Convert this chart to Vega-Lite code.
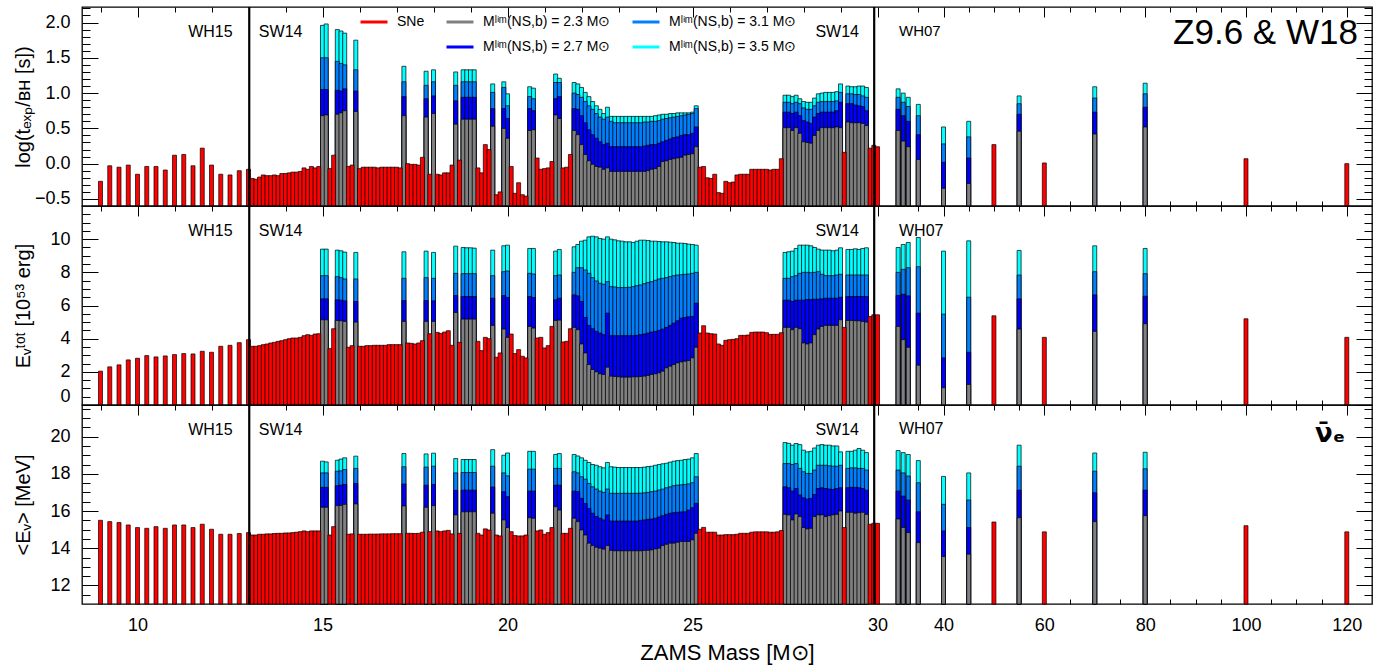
{
"$schema":"https://vega.github.io/schema/vega-lite/v6.json",
"padding":{"left":12,"top":5,"right":18,"bottom":5},
"spacing":0,
"bounds":"flush",
"config":{"view":{"stroke":"black","strokeWidth":1.3},"font":"Liberation Sans",
"axis":{"domain":false,"grid":false,"tickColor":"black","tickWidth":1,"labelColor":"black","labelFont":"Liberation Sans","labelFontSize":18,"titleColor":"black","titleFont":"Liberation Sans","titleFontWeight":"normal","titleFontSize":20}},
"datasets":{"d":[
{"m":9,"f":"S","t1":-0.25,"E1":2.04,"e1":15.5},
{"m":9.25,"f":"S","t1":-0.03,"E1":2.3,"e1":15.43},
{"m":9.5,"f":"S","t1":-0.05,"E1":2.42,"e1":15.38},
{"m":9.75,"f":"S","t1":-0.02,"E1":2.72,"e1":15.25},
{"m":10,"f":"S","t1":-0.15,"E1":2.82,"e1":15.11},
{"m":10.25,"f":"S","t1":-0.04,"E1":2.98,"e1":15.07},
{"m":10.5,"f":"S","t1":-0.04,"E1":2.9,"e1":15.16},
{"m":10.75,"f":"S","t1":-0.09,"E1":2.96,"e1":15.07},
{"m":11,"f":"S","t1":0.12,"E1":3.04,"e1":15.25},
{"m":11.25,"f":"S","t1":0.13,"E1":3.1,"e1":15.25},
{"m":11.5,"f":"S","t1":-0.03,"E1":3.08,"e1":15.11},
{"m":11.75,"f":"S","t1":0.22,"E1":3.24,"e1":15.29},
{"m":12,"f":"S","t1":-0.02,"E1":3.18,"e1":15.02},
{"m":12.25,"f":"S","t1":-0.15,"E1":3.54,"e1":14.75},
{"m":12.5,"f":"S","t1":-0.16,"E1":3.6,"e1":14.75},
{"m":12.75,"f":"S","t1":-0.1,"E1":3.76,"e1":14.79},
{"m":13,"f":"S","t1":-0.08,"E1":3.94,"e1":14.84},
{"m":13.1,"f":"S","t1":-0.21,"E1":3.54,"e1":14.71},
{"m":13.2,"f":"S","t1":-0.22,"E1":3.54,"e1":14.71},
{"m":13.3,"f":"S","t1":-0.19,"E1":3.58,"e1":14.75},
{"m":13.4,"f":"S","t1":-0.16,"E1":3.64,"e1":14.75},
{"m":13.5,"f":"S","t1":-0.17,"E1":3.68,"e1":14.77},
{"m":13.6,"f":"S","t1":-0.17,"E1":3.74,"e1":14.77},
{"m":13.7,"f":"S","t1":-0.16,"E1":3.78,"e1":14.79},
{"m":13.8,"f":"S","t1":-0.17,"E1":3.84,"e1":14.8},
{"m":13.9,"f":"S","t1":-0.14,"E1":3.88,"e1":14.8},
{"m":14,"f":"S","t1":-0.14,"E1":3.94,"e1":14.82},
{"m":14.1,"f":"S","t1":-0.13,"E1":4.0,"e1":14.82},
{"m":14.2,"f":"S","t1":-0.12,"E1":4.04,"e1":14.84},
{"m":14.3,"f":"S","t1":-0.12,"E1":4.04,"e1":14.86},
{"m":14.4,"f":"S","t1":-0.11,"E1":4.08,"e1":14.89},
{"m":14.5,"f":"S","t1":-0.06,"E1":4.18,"e1":14.93},
{"m":14.6,"f":"S","t1":-0.08,"E1":4.24,"e1":14.89},
{"m":14.7,"f":"S","t1":-0.04,"E1":4.2,"e1":14.93},
{"m":14.8,"f":"S","t1":-0.06,"E1":4.28,"e1":14.93},
{"m":14.9,"f":"S","t1":-0.04,"E1":4.3,"e1":14.93},
{"m":15,"f":"B","t1":0.68,"t2":1.05,"t3":1.5,"t4":1.96,"E1":5.14,"E2":6.4,"E3":7.8,"E4":9.4,"e1":16.2,"e2":17.27,"e3":18.05,"e4":18.68},
{"m":15.1,"f":"B","t1":0.69,"t2":1.05,"t3":1.5,"t4":1.98,"E1":5.14,"E2":6.4,"E3":7.8,"E4":9.4,"e1":16.2,"e2":17.27,"e3":18.05,"e4":18.64},
{"m":15.2,"f":"S","t1":-0.07,"E1":3.4,"e1":14.71},
{"m":15.3,"f":"S","t1":0.12,"E1":4.6,"e1":15.16},
{"m":15.4,"f":"B","t1":0.7,"t2":1.04,"t3":1.45,"t4":1.9,"E1":5.1,"E2":6.34,"E3":7.74,"E4":9.34,"e1":16.29,"e2":17.36,"e3":18.14,"e4":18.73},
{"m":15.5,"f":"B","t1":0.72,"t2":1.03,"t3":1.42,"t4":1.88,"E1":5.08,"E2":6.32,"E3":7.68,"E4":9.3,"e1":16.3,"e2":17.39,"e3":18.16,"e4":18.79},
{"m":15.6,"f":"B","t1":0.75,"t2":1.06,"t3":1.4,"t4":1.85,"E1":5.04,"E2":6.28,"E3":7.6,"E4":9.22,"e1":16.36,"e2":17.43,"e3":18.23,"e4":18.86},
{"m":15.7,"f":"S","t1":-0.04,"E1":3.48,"e1":14.75},
{"m":15.8,"f":"S","t1":-0.02,"E1":3.58,"e1":14.77},
{"m":15.9,"f":"B","t1":0.74,"t2":1.03,"t3":1.33,"t4":1.75,"E1":5.0,"E2":6.24,"E3":7.6,"E4":9.2,"e1":16.38,"e2":17.48,"e3":18.29,"e4":18.95},
{"m":16,"f":"S","t1":-0.07,"E1":3.54,"e1":14.75},
{"m":16.1,"f":"S","t1":-0.05,"E1":3.54,"e1":14.75},
{"m":16.2,"f":"S","t1":-0.05,"E1":3.58,"e1":14.75},
{"m":16.3,"f":"S","t1":-0.05,"E1":3.58,"e1":14.76},
{"m":16.4,"f":"S","t1":-0.05,"E1":3.6,"e1":14.76},
{"m":16.5,"f":"S","t1":-0.06,"E1":3.6,"e1":14.76},
{"m":16.6,"f":"S","t1":-0.05,"E1":3.6,"e1":14.77},
{"m":16.7,"f":"S","t1":-0.05,"E1":3.6,"e1":14.77},
{"m":16.8,"f":"S","t1":-0.05,"E1":3.64,"e1":14.77},
{"m":16.9,"f":"S","t1":-0.05,"E1":3.64,"e1":14.78},
{"m":17,"f":"S","t1":-0.05,"E1":3.64,"e1":14.78},
{"m":17.1,"f":"S","t1":-0.06,"E1":3.64,"e1":14.78},
{"m":17.2,"f":"B","t1":0.68,"t2":0.95,"t3":1.16,"t4":1.38,"E1":5.04,"E2":6.3,"E3":7.64,"E4":9.24,"e1":16.27,"e2":17.45,"e3":18.38,"e4":19.09},
{"m":17.3,"f":"S","t1":0.0,"E1":3.74,"e1":14.8},
{"m":17.4,"f":"S","t1":-0.01,"E1":3.72,"e1":14.8},
{"m":17.5,"f":"S","t1":-0.01,"E1":3.68,"e1":14.79},
{"m":17.6,"f":"S","t1":-0.02,"E1":3.74,"e1":14.8},
{"m":17.7,"f":"S","t1":0.09,"E1":3.88,"e1":14.86},
{"m":17.8,"f":"B","t1":0.66,"t2":0.92,"t3":1.11,"t4":1.31,"E1":5.04,"E2":6.3,"E3":7.68,"E4":9.28,"e1":16.2,"e2":17.39,"e3":18.36,"e4":19.07},
{"m":17.9,"f":"S","t1":-0.15,"E1":4.3,"e1":14.89},
{"m":18,"f":"B","t1":0.71,"t2":0.96,"t3":1.16,"t4":1.33,"E1":5.04,"E2":6.28,"E3":7.64,"E4":9.2,"e1":16.29,"e2":17.43,"e3":18.41,"e4":19.11},
{"m":18.1,"f":"S","t1":-0.15,"E1":4.38,"e1":14.93},
{"m":18.2,"f":"S","t1":-0.16,"E1":4.32,"e1":14.89},
{"m":18.3,"f":"S","t1":-0.13,"E1":4.4,"e1":14.93},
{"m":18.4,"f":"S","t1":-0.13,"E1":4.48,"e1":14.96},
{"m":18.5,"f":"S","t1":-0.02,"E1":3.6,"e1":14.77},
{"m":18.6,"f":"B","t1":0.56,"t2":0.89,"t3":1.11,"t4":1.3,"E1":5.58,"E2":6.6,"E3":7.94,"E4":9.58,"e1":15.79,"e2":17.11,"e3":18.05,"e4":18.82},
{"m":18.7,"f":"S","t1":0.05,"E1":3.78,"e1":14.8},
{"m":18.8,"f":"B","t1":0.63,"t2":0.94,"t3":1.16,"t4":1.33,"E1":5.18,"E2":6.54,"E3":7.92,"E4":9.5,"e1":15.96,"e2":17.12,"e3":18.07,"e4":18.77},
{"m":18.9,"f":"B","t1":0.63,"t2":0.94,"t3":1.16,"t4":1.33,"E1":5.18,"E2":6.54,"E3":7.92,"E4":9.48,"e1":15.96,"e2":17.12,"e3":18.07,"e4":18.77},
{"m":19,"f":"B","t1":0.63,"t2":0.94,"t3":1.16,"t4":1.33,"E1":5.18,"E2":6.54,"E3":7.92,"E4":9.48,"e1":15.96,"e2":17.12,"e3":18.07,"e4":18.77},
{"m":19.1,"f":"B","t1":0.63,"t2":0.94,"t3":1.16,"t4":1.33,"E1":5.18,"E2":6.54,"E3":7.92,"E4":9.46,"e1":15.96,"e2":17.12,"e3":18.07,"e4":18.77},
{"m":19.2,"f":"S","t1":-0.06,"E1":3.84,"e1":14.8},
{"m":19.3,"f":"S","t1":-0.13,"E1":3.28,"e1":14.71},
{"m":19.4,"f":"S","t1":0.27,"E1":4.08,"e1":15.04},
{"m":19.5,"f":"S","t1":0.2,"E1":4.0,"e1":14.98},
{"m":19.6,"f":"B","t1":0.53,"t2":0.78,"t3":1.01,"t4":1.13,"E1":4.8,"E2":6.44,"E3":7.8,"E4":9.34,"e1":15.88,"e2":17.29,"e3":18.41,"e4":19.3},
{"m":19.7,"f":"S","t1":-0.44,"E1":2.88,"e1":14.71},
{"m":19.8,"f":"S","t1":-0.4,"E1":3.14,"e1":14.66},
{"m":19.9,"f":"B","t1":0.5,"t2":0.78,"t3":1.08,"t4":1.16,"E1":4.58,"E2":6.6,"E3":8.04,"E4":9.6,"e1":15.52,"e2":17.04,"e3":18.05,"e4":19.0},
{"m":20,"f":"B","t1":0.36,"t2":0.64,"t3":0.82,"t4":0.99,"E1":4.08,"E2":6.48,"E3":8.08,"E4":9.64,"e1":15.11,"e2":16.77,"e3":17.89,"e4":19.12},
{"m":20.1,"f":"S","t1":-0.04,"E1":4.28,"e1":14.89},
{"m":20.2,"f":"S","t1":-0.42,"E1":3.1,"e1":14.68},
{"m":20.3,"f":"S","t1":-0.27,"E1":3.34,"e1":14.66},
{"m":20.4,"f":"S","t1":-0.44,"E1":2.94,"e1":14.66},
{"m":20.5,"f":"S","t1":-0.46,"E1":2.84,"e1":14.71},
{"m":20.6,"f":"B","t1":0.47,"t2":0.78,"t3":0.95,"t4":1.09,"E1":4.74,"E2":6.54,"E3":7.94,"E4":9.44,"e1":15.64,"e2":17.07,"e3":18.25,"e4":19.21},
{"m":20.7,"f":"B","t1":0.48,"t2":0.75,"t3":0.92,"t4":1.07,"E1":4.64,"E2":6.48,"E3":7.9,"E4":9.44,"e1":15.61,"e2":17.07,"e3":18.25,"e4":19.21},
{"m":20.8,"f":"S","t1":0.08,"E1":4.04,"e1":14.93},
{"m":20.9,"f":"S","t1":-0.08,"E1":4.08,"e1":14.98},
{"m":21,"f":"S","t1":-0.07,"E1":3.44,"e1":14.75},
{"m":21.1,"f":"S","t1":-0.06,"E1":3.58,"e1":14.84},
{"m":21.2,"f":"S","t1":0.03,"E1":4.74,"e1":15.11},
{"m":21.3,"f":"B","t1":0.69,"t2":0.92,"t3":1.15,"t4":1.27,"E1":5.1,"E2":6.34,"E3":7.8,"E4":9.28,"e1":16.23,"e2":17.39,"e3":18.29,"e4":19.04},
{"m":21.4,"f":"B","t1":0.64,"t2":0.95,"t3":1.15,"t4":1.21,"E1":5.12,"E2":6.44,"E3":7.84,"E4":9.38,"e1":16.05,"e2":17.39,"e3":18.29,"e4":19.09},
{"m":21.5,"f":"S","t1":-0.06,"E1":3.8,"e1":14.8},
{"m":21.6,"f":"S","t1":-0.05,"E1":3.84,"e1":14.8},
{"m":21.7,"f":"S","t1":0.13,"E1":4.6,"e1":15.07},
{"m":21.8,"f":"B","t1":0.47,"t2":0.78,"t3":1.0,"t4":1.15,"E1":4.68,"E2":6.64,"E3":8.0,"E4":9.54,"e1":15.61,"e2":17.07,"e3":18.11,"e4":19.04},
{"m":21.9,"f":"B","t1":0.41,"t2":0.77,"t3":0.98,"t4":1.13,"E1":4.54,"E2":6.58,"E3":8.28,"E4":9.68,"e1":15.43,"e2":17.04,"e3":18.05,"e4":18.96},
{"m":22,"f":"B","t1":0.27,"t2":0.68,"t3":0.94,"t4":1.08,"E1":3.68,"E2":6.24,"E3":8.28,"E4":9.88,"e1":14.98,"e2":16.68,"e3":17.84,"e4":18.86},
{"m":22.1,"f":"B","t1":0.13,"t2":0.58,"t3":0.88,"t4":1.01,"E1":3.14,"E2":5.28,"E3":8.14,"E4":9.94,"e1":14.71,"e2":16.41,"e3":17.71,"e4":18.73},
{"m":22.2,"f":"B","t1":0.04,"t2":0.48,"t3":0.82,"t4":0.95,"E1":2.44,"E2":4.8,"E3":7.94,"E4":10.14,"e1":14.27,"e2":16.14,"e3":17.48,"e4":18.61},
{"m":22.3,"f":"B","t1":-0.01,"t2":0.41,"t3":0.77,"t4":0.88,"E1":2.14,"E2":4.6,"E3":7.68,"E4":10.18,"e1":14.14,"e2":15.88,"e3":17.3,"e4":18.5},
{"m":22.4,"f":"B","t1":-0.04,"t2":0.36,"t3":0.71,"t4":0.82,"E1":2.0,"E2":4.44,"E3":7.48,"E4":10.14,"e1":14.05,"e2":15.7,"e3":17.18,"e4":18.46},
{"m":22.5,"f":"B","t1":-0.05,"t2":0.31,"t3":0.66,"t4":0.77,"E1":1.88,"E2":4.34,"E3":7.34,"E4":10.04,"e1":14.0,"e2":15.61,"e3":17.07,"e4":18.38},
{"m":22.6,"f":"B","t1":-0.08,"t2":0.27,"t3":0.63,"t4":0.71,"E1":1.84,"E2":4.24,"E3":7.28,"E4":10.0,"e1":13.95,"e2":15.52,"e3":17.0,"e4":18.32},
{"m":22.7,"f":"B","t1":-0.06,"t2":0.29,"t3":0.66,"t4":0.8,"E1":2.28,"E2":5.54,"E3":7.44,"E4":10.14,"e1":14.14,"e2":15.79,"e3":17.18,"e4":18.61},
{"m":22.8,"f":"B","t1":-0.11,"t2":0.24,"t3":0.6,"t4":0.67,"E1":1.74,"E2":4.18,"E3":7.14,"E4":10.0,"e1":13.88,"e2":15.46,"e3":16.95,"e4":18.38},
{"m":22.9,"f":"B","t1":-0.11,"t2":0.24,"t3":0.58,"t4":0.67,"E1":1.72,"E2":4.18,"E3":7.12,"E4":9.96,"e1":13.86,"e2":15.46,"e3":16.95,"e4":18.36},
{"m":23,"f":"B","t1":-0.11,"t2":0.24,"t3":0.58,"t4":0.67,"E1":1.7,"E2":4.18,"E3":7.08,"E4":9.9,"e1":13.86,"e2":15.46,"e3":16.95,"e4":18.34},
{"m":23.1,"f":"B","t1":-0.11,"t2":0.24,"t3":0.58,"t4":0.67,"E1":1.68,"E2":4.18,"E3":7.08,"E4":9.88,"e1":13.86,"e2":15.46,"e3":16.95,"e4":18.34},
{"m":23.2,"f":"B","t1":-0.11,"t2":0.24,"t3":0.58,"t4":0.67,"E1":1.68,"E2":4.18,"E3":7.08,"E4":9.84,"e1":13.86,"e2":15.46,"e3":16.95,"e4":18.34},
{"m":23.3,"f":"B","t1":-0.11,"t2":0.24,"t3":0.58,"t4":0.67,"E1":1.68,"E2":4.18,"E3":7.1,"E4":9.84,"e1":13.86,"e2":15.46,"e3":16.95,"e4":18.34},
{"m":23.4,"f":"B","t1":-0.11,"t2":0.24,"t3":0.58,"t4":0.67,"E1":1.7,"E2":4.18,"E3":7.14,"E4":9.8,"e1":13.86,"e2":15.46,"e3":16.95,"e4":18.34},
{"m":23.5,"f":"B","t1":-0.11,"t2":0.24,"t3":0.58,"t4":0.67,"E1":1.7,"E2":4.2,"E3":7.2,"E4":9.88,"e1":13.86,"e2":15.46,"e3":16.95,"e4":18.34},
{"m":23.6,"f":"B","t1":-0.11,"t2":0.24,"t3":0.58,"t4":0.67,"E1":1.72,"E2":4.24,"E3":7.24,"E4":9.94,"e1":13.86,"e2":15.5,"e3":16.96,"e4":18.34},
{"m":23.7,"f":"B","t1":-0.11,"t2":0.25,"t3":0.59,"t4":0.67,"E1":1.74,"E2":4.28,"E3":7.32,"E4":9.94,"e1":13.88,"e2":15.52,"e3":16.98,"e4":18.36},
{"m":23.8,"f":"B","t1":-0.1,"t2":0.26,"t3":0.59,"t4":0.67,"E1":1.78,"E2":4.34,"E3":7.38,"E4":9.92,"e1":13.89,"e2":15.55,"e3":17.0,"e4":18.39},
{"m":23.9,"f":"B","t1":-0.08,"t2":0.27,"t3":0.6,"t4":0.67,"E1":1.84,"E2":4.4,"E3":7.44,"E4":9.88,"e1":13.91,"e2":15.57,"e3":17.04,"e4":18.41},
{"m":24,"f":"B","t1":-0.07,"t2":0.27,"t3":0.6,"t4":0.68,"E1":1.88,"E2":4.44,"E3":7.52,"E4":9.88,"e1":13.96,"e2":15.61,"e3":17.07,"e4":18.46},
{"m":24.1,"f":"B","t1":-0.04,"t2":0.29,"t3":0.61,"t4":0.69,"E1":1.94,"E2":4.5,"E3":7.6,"E4":9.86,"e1":14.0,"e2":15.68,"e3":17.13,"e4":18.5},
{"m":24.2,"f":"B","t1":0.03,"t2":0.31,"t3":0.63,"t4":0.7,"E1":2.04,"E2":4.58,"E3":7.64,"E4":9.84,"e1":14.14,"e2":15.75,"e3":17.18,"e4":18.54},
{"m":24.3,"f":"B","t1":0.04,"t2":0.33,"t3":0.64,"t4":0.7,"E1":2.24,"E2":4.68,"E3":7.68,"E4":9.84,"e1":14.21,"e2":15.82,"e3":17.25,"e4":18.57},
{"m":24.4,"f":"B","t1":0.06,"t2":0.35,"t3":0.65,"t4":0.71,"E1":2.34,"E2":4.8,"E3":7.74,"E4":9.82,"e1":14.27,"e2":15.88,"e3":17.3,"e4":18.63},
{"m":24.5,"f":"B","t1":0.07,"t2":0.37,"t3":0.66,"t4":0.71,"E1":2.44,"E2":4.94,"E3":7.8,"E4":9.8,"e1":14.27,"e2":15.91,"e3":17.36,"e4":18.68},
{"m":24.6,"f":"B","t1":0.08,"t2":0.38,"t3":0.67,"t4":0.72,"E1":2.54,"E2":5.08,"E3":7.84,"E4":9.76,"e1":14.32,"e2":15.93,"e3":17.39,"e4":18.71},
{"m":24.7,"f":"B","t1":0.09,"t2":0.4,"t3":0.68,"t4":0.72,"E1":2.6,"E2":5.24,"E3":7.86,"E4":9.76,"e1":14.36,"e2":15.95,"e3":17.41,"e4":18.73},
{"m":24.8,"f":"B","t1":0.12,"t2":0.41,"t3":0.69,"t4":0.72,"E1":2.64,"E2":5.28,"E3":7.88,"E4":9.74,"e1":14.36,"e2":15.96,"e3":17.43,"e4":18.77},
{"m":24.9,"f":"B","t1":0.13,"t2":0.41,"t3":0.7,"t4":0.72,"E1":2.68,"E2":5.32,"E3":7.9,"E4":9.7,"e1":14.36,"e2":16.05,"e3":17.46,"e4":18.79},
{"m":25,"f":"B","t1":0.14,"t2":0.43,"t3":0.71,"t4":0.73,"E1":2.84,"E2":5.34,"E3":7.94,"E4":9.68,"e1":14.45,"e2":16.18,"e3":17.52,"e4":18.86},
{"m":25.1,"f":"B","t1":0.24,"t2":0.52,"t3":0.78,"t4":0.82,"E1":3.48,"E2":6.14,"E3":8.0,"E4":9.64,"e1":14.8,"e2":16.41,"e3":17.84,"e4":19.09},
{"m":25.2,"f":"S","t1":-0.05,"E1":4.34,"e1":15.02},
{"m":25.3,"f":"S","t1":-0.04,"E1":4.78,"e1":15.12},
{"m":25.4,"f":"S","t1":-0.2,"E1":4.34,"e1":14.86},
{"m":25.5,"f":"S","t1":-0.21,"E1":4.3,"e1":14.86},
{"m":25.6,"f":"S","t1":-0.15,"E1":4.28,"e1":14.86},
{"m":25.7,"f":"S","t1":-0.41,"E1":3.68,"e1":14.71},
{"m":25.8,"f":"S","t1":-0.42,"E1":3.6,"e1":14.71},
{"m":25.9,"f":"S","t1":-0.25,"E1":3.9,"e1":14.73},
{"m":26,"f":"S","t1":-0.27,"E1":3.94,"e1":14.73},
{"m":26.1,"f":"S","t1":-0.26,"E1":3.96,"e1":14.73},
{"m":26.2,"f":"S","t1":-0.16,"E1":4.0,"e1":14.75},
{"m":26.3,"f":"S","t1":-0.15,"E1":4.2,"e1":14.8},
{"m":26.4,"f":"S","t1":-0.15,"E1":4.2,"e1":14.8},
{"m":26.5,"f":"S","t1":-0.15,"E1":4.22,"e1":14.8},
{"m":26.6,"f":"S","t1":-0.08,"E1":4.38,"e1":14.86},
{"m":26.7,"f":"S","t1":-0.08,"E1":4.4,"e1":14.88},
{"m":26.8,"f":"S","t1":-0.08,"E1":4.4,"e1":14.88},
{"m":26.9,"f":"S","t1":-0.08,"E1":4.4,"e1":14.88},
{"m":27,"f":"S","t1":-0.08,"E1":4.36,"e1":14.88},
{"m":27.1,"f":"S","t1":-0.09,"E1":4.26,"e1":14.86},
{"m":27.2,"f":"S","t1":-0.08,"E1":4.26,"e1":14.86},
{"m":27.3,"f":"S","t1":-0.08,"E1":4.26,"e1":14.88},
{"m":27.4,"f":"S","t1":0.07,"E1":4.36,"e1":14.95},
{"m":27.5,"f":"B","t1":0.51,"t2":0.73,"t3":0.87,"t4":0.97,"E1":4.68,"E2":6.32,"E3":7.64,"E4":9.2,"e1":15.82,"e2":17.3,"e3":18.55,"e4":19.68},
{"m":27.6,"f":"B","t1":0.51,"t2":0.73,"t3":0.87,"t4":0.97,"E1":4.68,"E2":6.32,"E3":7.64,"E4":9.24,"e1":15.79,"e2":17.25,"e3":18.55,"e4":19.64},
{"m":27.7,"f":"B","t1":0.47,"t2":0.71,"t3":0.85,"t4":0.95,"E1":4.54,"E2":6.24,"E3":7.74,"E4":9.28,"e1":15.52,"e2":17.07,"e3":18.5,"e4":19.54},
{"m":27.8,"f":"B","t1":0.51,"t2":0.73,"t3":0.87,"t4":0.97,"E1":4.68,"E2":6.32,"E3":7.8,"E4":9.44,"e1":15.84,"e2":17.21,"e3":18.55,"e4":19.63},
{"m":27.9,"f":"B","t1":0.43,"t2":0.68,"t3":0.85,"t4":0.92,"E1":4.6,"E2":6.32,"E3":7.94,"E4":9.64,"e1":15.7,"e2":16.86,"e3":18.29,"e4":19.57},
{"m":28,"f":"B","t1":0.31,"t2":0.61,"t3":0.79,"t4":0.88,"E1":3.74,"E2":6.32,"E3":8.0,"E4":9.64,"e1":15.11,"e2":16.71,"e3":18.11,"e4":19.27},
{"m":28.1,"f":"B","t1":0.3,"t2":0.59,"t3":0.77,"t4":0.87,"E1":3.68,"E2":6.36,"E3":8.0,"E4":9.64,"e1":15.04,"e2":16.64,"e3":18.02,"e4":19.18},
{"m":28.2,"f":"B","t1":0.29,"t2":0.57,"t3":0.77,"t4":0.87,"E1":3.74,"E2":6.36,"E3":7.98,"E4":9.6,"e1":15.07,"e2":16.68,"e3":18.02,"e4":19.21},
{"m":28.3,"f":"B","t1":0.4,"t2":0.66,"t3":0.82,"t4":0.93,"E1":4.24,"E2":6.38,"E3":8.0,"E4":9.5,"e1":15.7,"e2":16.89,"e3":18.2,"e4":19.39},
{"m":28.4,"f":"B","t1":0.47,"t2":0.71,"t3":0.87,"t4":0.99,"E1":4.58,"E2":6.38,"E3":8.04,"E4":9.4,"e1":15.79,"e2":17.21,"e3":18.46,"e4":19.54},
{"m":28.5,"f":"B","t1":0.51,"t2":0.73,"t3":0.88,"t4":1.0,"E1":4.74,"E2":6.4,"E3":7.88,"E4":9.34,"e1":15.79,"e2":17.25,"e3":18.46,"e4":19.57},
{"m":28.6,"f":"B","t1":0.51,"t2":0.73,"t3":0.88,"t4":1.01,"E1":4.8,"E2":6.44,"E3":7.8,"E4":9.34,"e1":15.7,"e2":17.21,"e3":18.46,"e4":19.54},
{"m":28.7,"f":"B","t1":0.51,"t2":0.73,"t3":0.88,"t4":1.01,"E1":4.8,"E2":6.44,"E3":7.8,"E4":9.34,"e1":15.75,"e2":17.18,"e3":18.43,"e4":19.54},
{"m":28.8,"f":"B","t1":0.51,"t2":0.73,"t3":0.88,"t4":1.01,"E1":4.8,"E2":6.44,"E3":7.8,"E4":9.3,"e1":15.79,"e2":17.16,"e3":18.41,"e4":19.5},
{"m":28.9,"f":"B","t1":0.52,"t2":0.75,"t3":0.89,"t4":1.02,"E1":4.8,"E2":6.44,"E3":7.84,"E4":9.34,"e1":15.82,"e2":17.21,"e3":18.41,"e4":19.5},
{"m":29,"f":"B","t1":0.51,"t2":0.87,"t3":1.01,"t4":1.13,"E1":5.14,"E2":6.5,"E3":7.88,"E4":9.48,"e1":16.0,"e2":17.25,"e3":18.46,"e4":19.18},
{"m":29.1,"f":"S","t1":0.16,"E1":4.68,"e1":15.11},
{"m":29.2,"f":"B","t1":0.59,"t2":0.85,"t3":0.99,"t4":1.1,"E1":5.1,"E2":6.54,"E3":7.84,"E4":9.38,"e1":15.93,"e2":17.25,"e3":18.29,"e4":19.21},
{"m":29.3,"f":"B","t1":0.58,"t2":0.85,"t3":0.99,"t4":1.09,"E1":5.1,"E2":6.54,"E3":7.84,"E4":9.38,"e1":15.93,"e2":17.27,"e3":18.32,"e4":19.21},
{"m":29.4,"f":"B","t1":0.58,"t2":0.83,"t3":0.98,"t4":1.09,"E1":5.08,"E2":6.54,"E3":7.84,"E4":9.42,"e1":15.88,"e2":17.27,"e3":18.32,"e4":19.27},
{"m":29.5,"f":"B","t1":0.58,"t2":0.82,"t3":0.98,"t4":1.1,"E1":5.08,"E2":6.54,"E3":7.84,"E4":9.38,"e1":15.91,"e2":17.25,"e3":18.29,"e4":19.36},
{"m":29.6,"f":"B","t1":0.57,"t2":0.81,"t3":0.96,"t4":1.1,"E1":5.04,"E2":6.54,"E3":7.84,"E4":9.44,"e1":15.93,"e2":17.21,"e3":18.29,"e4":19.27},
{"m":29.7,"f":"B","t1":0.54,"t2":0.75,"t3":0.94,"t4":1.08,"E1":5.0,"E2":6.54,"E3":7.84,"E4":9.48,"e1":15.82,"e2":17.12,"e3":18.2,"e4":19.14},
{"m":29.8,"f":"S","t1":0.22,"E1":5.34,"e1":15.29},
{"m":29.9,"f":"S","t1":0.26,"E1":5.44,"e1":15.34},
{"m":30,"f":"S","t1":0.24,"E1":5.44,"e1":15.34},
{"m":31,"f":"B","t1":0.47,"t2":0.77,"t3":0.94,"t4":1.06,"E1":4.74,"E2":6.6,"E3":8.0,"E4":9.5,"e1":15.57,"e2":17.07,"e3":18.2,"e4":19.25},
{"m":32,"f":"B","t1":0.32,"t2":0.68,"t3":0.87,"t4":1.0,"E1":3.94,"E2":6.68,"E3":8.18,"E4":9.68,"e1":15.11,"e2":16.8,"e3":18.05,"e4":19.14},
{"m":33,"f":"B","t1":0.24,"t2":0.6,"t3":0.81,"t4":0.94,"E1":3.48,"E2":6.58,"E3":8.28,"E4":9.8,"e1":14.84,"e2":16.59,"e3":17.88,"e4":19.04},
{"m":35,"f":"B","t1":0.06,"t2":0.41,"t3":0.68,"t4":0.84,"E1":2.4,"E2":5.54,"E3":8.34,"E4":10.1,"e1":14.3,"e2":15.96,"e3":17.52,"e4":18.71},
{"m":40,"f":"B","t1":-0.35,"t2":0.02,"t3":0.28,"t4":0.52,"E1":1.04,"E2":2.84,"E3":5.48,"E4":9.28,"e1":13.55,"e2":14.93,"e3":16.36,"e4":17.86},
{"m":45,"f":"B","t1":-0.28,"t2":0.08,"t3":0.38,"t4":0.6,"E1":1.24,"E2":3.18,"E3":6.5,"E4":9.9,"e1":13.68,"e2":15.11,"e3":16.59,"e4":18.05},
{"m":50,"f":"S","t1":0.27,"E1":5.38,"e1":15.41},
{"m":55,"f":"B","t1":0.46,"t2":0.7,"t3":0.85,"t4":0.96,"E1":4.58,"E2":6.4,"E3":7.84,"E4":9.32,"e1":15.64,"e2":17.12,"e3":18.41,"e4":19.54},
{"m":60,"f":"S","t1":0.01,"E1":4.08,"e1":14.88},
{"m":70,"f":"B","t1":0.42,"t2":0.73,"t3":0.93,"t4":1.09,"E1":4.44,"E2":6.64,"E3":8.04,"E4":9.6,"e1":15.43,"e2":16.98,"e3":18.14,"e4":19.12},
{"m":80,"f":"B","t1":0.52,"t2":0.8,"t3":0.99,"t4":1.14,"E1":4.9,"E2":6.56,"E3":7.92,"E4":9.44,"e1":15.75,"e2":17.12,"e3":18.27,"e4":19.16},
{"m":100,"f":"S","t1":0.07,"E1":5.2,"e1":15.21},
{"m":120,"f":"S","t1":0.0,"E1":4.08,"e1":14.88}
]},
"data":{"name":"d"},
"vconcat":[
{"width":1290,"height":199,
"resolve":{"axis":{"x":"independent","y":"independent"}},
"layer":[
{"transform":[{"filter":{"field":"f","equal":"B"}}],"mark":{"type":"bar","fill":"#00FFFF","stroke":"black","strokeWidth":0.7,"size":4},
"encoding":{"x":{"field":"m","type":"quantitative","scale":{"domain":[8.5,30.04,30.05,125],"range":[0,797,811.35,1290],"nice":false,"zero":false,"padding":0},"axis":null},
"y":{"field":"t4","type":"quantitative","scale":{"domain":[-0.6,2.22],"nice":false,"zero":false,"padding":0},"axis":{"orient":"left","values":[-0.5,0,0.5,1,1.5,2],"format":".1f","ticks":false,"labelPadding":12,"title":"log(tₑₓₚ/ʙʜ [s])","titleX":-59,"titleBaseline":"middle"}},
"y2":{"datum":-0.6}}},
{"transform":[{"filter":{"field":"f","equal":"B"}}],"mark":{"type":"bar","fill":"#0080FF","stroke":"black","strokeWidth":0.7,"size":4},
"encoding":{"x":{"field":"m","type":"quantitative","axis":{"orient":"bottom","values":[10,15,20,25,30,40,60,80,100,120],"labels":false,"tickSize":-10,"title":null}},
"y":{"field":"t3","type":"quantitative","axis":{"orient":"left","values":[-0.5,0,0.5,1,1.5,2],"labels":false,"tickSize":-16,"title":null}},
"y2":{"datum":-0.6}}},
{"transform":[{"filter":{"field":"f","equal":"B"}}],"mark":{"type":"bar","fill":"#0000FF","stroke":"black","strokeWidth":0.7,"size":4},
"encoding":{"x":{"field":"m","type":"quantitative","axis":{"orient":"bottom","values":[9,11,12,13,14,16,17,18,19,21,22,23,24,26,27,28,29,35,45,50,55,65,70,75,85,90,95,105,110,115],"labels":false,"tickSize":-5,"title":null}},
"y":{"field":"t2","type":"quantitative","axis":{"orient":"left","values":[-0.4,-0.3,-0.2,-0.1,0.1,0.2,0.3,0.4,0.6,0.7,0.8,0.9,1.1,1.2,1.3,1.4,1.6,1.7,1.8,1.9,2.1,2.2],"labels":false,"tickSize":-8,"title":null}},
"y2":{"datum":-0.6}}},
{"transform":[{"filter":{"field":"f","equal":"B"}}],"mark":{"type":"bar","fill":"#808080","stroke":"black","strokeWidth":0.7,"size":4},
"encoding":{"x":{"field":"m","type":"quantitative","axis":{"orient":"top","values":[10,15,20,25,30,40,60,80,100,120],"labels":false,"tickSize":-10,"title":null}},
"y":{"field":"t1","type":"quantitative","axis":{"orient":"right","values":[-0.5,0,0.5,1,1.5,2],"labels":false,"tickSize":-16,"title":null}},
"y2":{"datum":-0.6}}},
{"transform":[{"filter":{"field":"f","equal":"S"}}],"mark":{"type":"bar","fill":"#FF0000","stroke":"black","strokeWidth":0.7,"size":4},
"encoding":{"x":{"field":"m","type":"quantitative","axis":{"orient":"top","values":[9,11,12,13,14,16,17,18,19,21,22,23,24,26,27,28,29,35,45,50,55,65,70,75,85,90,95,105,110,115],"labels":false,"tickSize":-5,"title":null}},
"y":{"field":"t1","type":"quantitative","axis":{"orient":"right","values":[-0.4,-0.3,-0.2,-0.1,0.1,0.2,0.3,0.4,0.6,0.7,0.8,0.9,1.1,1.2,1.3,1.4,1.6,1.7,1.8,1.9,2.1,2.2],"labels":false,"tickSize":-8,"title":null}},
"y2":{"datum":-0.6}}},
{"data":{"values":[{}]},"mark":{"type":"rule","stroke":"black","strokeWidth":2.2},"encoding":{"x":{"datum":13.02,"type":"quantitative","axis":null}}},
{"data":{"values":[{}]},"mark":{"type":"rule","stroke":"black","strokeWidth":2.2},"encoding":{"x":{"datum":29.91,"type":"quantitative","axis":null}}},
{"data":{"values":[{}]},"mark":{"type":"text","text":"WH15","align":"right","baseline":"middle","fontSize":16,"font":"Liberation Sans"},"encoding":{"x":{"datum":12.57,"type":"quantitative","axis":null},"y":{"datum":1.86,"type":"quantitative","axis":null}}},
{"data":{"values":[{}]},"mark":{"type":"text","text":"SW14","align":"left","baseline":"middle","fontSize":16,"font":"Liberation Sans"},"encoding":{"x":{"datum":13.28,"type":"quantitative","axis":null},"y":{"datum":1.86,"type":"quantitative","axis":null}}},
{"data":{"values":[{}]},"mark":{"type":"text","text":"SW14","align":"right","baseline":"middle","fontSize":16,"font":"Liberation Sans"},"encoding":{"x":{"datum":29.5,"type":"quantitative","axis":null},"y":{"datum":1.86,"type":"quantitative","axis":null}}},
{"data":{"values":[{}]},"mark":{"type":"text","text":"WH07","align":"left","baseline":"middle","fontSize":15,"font":"Liberation Sans"},"encoding":{"x":{"datum":31.17,"type":"quantitative","axis":null},"y":{"datum":1.88,"type":"quantitative","axis":null}}},
{"data":{"values":[{}]},"mark":{"type":"text","text":"Z9.6 & W18","align":"right","baseline":"middle","fontSize":35,"font":"Liberation Sans"},"encoding":{"x":{"datum":122.2,"type":"quantitative","axis":null},"y":{"datum":1.845,"type":"quantitative","axis":null}}},
{"data":{"values":[]},"mark":{"type":"rule"},"encoding":{"stroke":{"field":"k","type":"nominal","scale":{"domain":["SNe","X","2.3","2.7","3.1","3.5"],"range":["#FF0000","rgba(0,0,0,0)","#808080","#0000FF","#0080FF","#00FFFF"]},
"legend":{"orient":"none","legendX":277,"legendY":0,"columns":3,"title":null,"symbolType":"stroke","symbolSize":729,"symbolStrokeWidth":3,"labelFontSize":14,"labelFont":"Liberation Sans","labelColor":"black","rowPadding":3,"columnPadding":15,"labelOffset":8,
"labelExpr":"datum.value == 'SNe' ? 'SNe' : (datum.value == 'X' ? '' : 'Mˡⁱᵐ(NS,b) = ' + datum.value + ' M⊙')"}}}}
]},
{"width":1290,"height":199,
"resolve":{"axis":{"x":"independent","y":"independent"}},
"layer":[
{"transform":[{"filter":{"field":"f","equal":"B"}}],"mark":{"type":"bar","fill":"#00FFFF","stroke":"black","strokeWidth":0.7,"size":4},
"encoding":{"x":{"field":"m","type":"quantitative","scale":{"domain":[8.5,30.04,30.05,125],"range":[0,797,811.35,1290],"nice":false,"zero":false,"padding":0},"axis":null},
"y":{"field":"E4","type":"quantitative","scale":{"domain":[0,12],"nice":false,"zero":false,"padding":0},"axis":{"orient":"left","values":[0,2,4,6,8,10],"ticks":false,"labelPadding":12,"labelFlush":3,"title":"Eᵥᵗᵒᵗ [10⁵³ erg]","titleX":-59,"titleBaseline":"middle"}},
"y2":{"datum":0}}},
{"transform":[{"filter":{"field":"f","equal":"B"}}],"mark":{"type":"bar","fill":"#0080FF","stroke":"black","strokeWidth":0.7,"size":4},
"encoding":{"x":{"field":"m","type":"quantitative","axis":{"orient":"bottom","values":[10,15,20,25,30,40,60,80,100,120],"labels":false,"tickSize":-10,"title":null}},
"y":{"field":"E3","type":"quantitative","axis":{"orient":"left","values":[0,2,4,6,8,10],"labels":false,"tickSize":-16,"title":null}},
"y2":{"datum":0}}},
{"transform":[{"filter":{"field":"f","equal":"B"}}],"mark":{"type":"bar","fill":"#0000FF","stroke":"black","strokeWidth":0.7,"size":4},
"encoding":{"x":{"field":"m","type":"quantitative","axis":{"orient":"bottom","values":[9,11,12,13,14,16,17,18,19,21,22,23,24,26,27,28,29,35,45,50,55,65,70,75,85,90,95,105,110,115],"labels":false,"tickSize":-5,"title":null}},
"y":{"field":"E2","type":"quantitative","axis":{"orient":"left","values":[0.5,1,1.5,2.5,3,3.5,4.5,5,5.5,6.5,7,7.5,8.5,9,9.5,10.5,11,11.5],"labels":false,"tickSize":-8,"title":null}},
"y2":{"datum":0}}},
{"transform":[{"filter":{"field":"f","equal":"B"}}],"mark":{"type":"bar","fill":"#808080","stroke":"black","strokeWidth":0.7,"size":4},
"encoding":{"x":{"field":"m","type":"quantitative","axis":{"orient":"top","values":[10,15,20,25,30,40,60,80,100,120],"labels":false,"tickSize":-10,"title":null}},
"y":{"field":"E1","type":"quantitative","axis":{"orient":"right","values":[0,2,4,6,8,10],"labels":false,"tickSize":-16,"title":null}},
"y2":{"datum":0}}},
{"transform":[{"filter":{"field":"f","equal":"S"}}],"mark":{"type":"bar","fill":"#FF0000","stroke":"black","strokeWidth":0.7,"size":4},
"encoding":{"x":{"field":"m","type":"quantitative","axis":{"orient":"top","values":[9,11,12,13,14,16,17,18,19,21,22,23,24,26,27,28,29,35,45,50,55,65,70,75,85,90,95,105,110,115],"labels":false,"tickSize":-5,"title":null}},
"y":{"field":"E1","type":"quantitative","axis":{"orient":"right","values":[0.5,1,1.5,2.5,3,3.5,4.5,5,5.5,6.5,7,7.5,8.5,9,9.5,10.5,11,11.5],"labels":false,"tickSize":-8,"title":null}},
"y2":{"datum":0}}},
{"data":{"values":[{}]},"mark":{"type":"rule","stroke":"black","strokeWidth":2.2},"encoding":{"x":{"datum":13.02,"type":"quantitative","axis":null}}},
{"data":{"values":[{}]},"mark":{"type":"rule","stroke":"black","strokeWidth":2.2},"encoding":{"x":{"datum":29.91,"type":"quantitative","axis":null}}},
{"data":{"values":[{}]},"mark":{"type":"text","text":"WH15","align":"right","baseline":"middle","fontSize":16,"font":"Liberation Sans"},"encoding":{"x":{"datum":12.57,"type":"quantitative","axis":null},"y":{"datum":10.47,"type":"quantitative","axis":null}}},
{"data":{"values":[{}]},"mark":{"type":"text","text":"SW14","align":"left","baseline":"middle","fontSize":16,"font":"Liberation Sans"},"encoding":{"x":{"datum":13.28,"type":"quantitative","axis":null},"y":{"datum":10.47,"type":"quantitative","axis":null}}},
{"data":{"values":[{}]},"mark":{"type":"text","text":"SW14","align":"right","baseline":"middle","fontSize":16,"font":"Liberation Sans"},"encoding":{"x":{"datum":29.5,"type":"quantitative","axis":null},"y":{"datum":10.47,"type":"quantitative","axis":null}}},
{"data":{"values":[{}]},"mark":{"type":"text","text":"WH07","align":"left","baseline":"middle","fontSize":16,"font":"Liberation Sans"},"encoding":{"x":{"datum":31.17,"type":"quantitative","axis":null},"y":{"datum":10.5,"type":"quantitative","axis":null}}}
]},
{"width":1290,"height":199,
"resolve":{"axis":{"x":"independent","y":"independent"}},
"layer":[
{"transform":[{"filter":{"field":"f","equal":"B"}}],"mark":{"type":"bar","fill":"#00FFFF","stroke":"black","strokeWidth":0.7,"size":4},
"encoding":{"x":{"field":"m","type":"quantitative","scale":{"domain":[8.5,30.04,30.05,125],"range":[0,797,811.35,1290],"nice":false,"zero":false,"padding":0},"axis":{"orient":"bottom","values":[10,15,20,25,30,40,60,80,100,120],"ticks":false,"labelPadding":12,"title":"ZAMS Mass [M⊙]","titleFontSize":22,"titlePadding":8}},
"y":{"field":"e4","type":"quantitative","scale":{"domain":[11,21.7],"nice":false,"zero":false,"padding":0},"axis":{"orient":"left","values":[12,14,16,18,20],"ticks":false,"labelPadding":12,"title":"<Eᵥ> [MeV]","titleX":-59,"titleBaseline":"middle"}},
"y2":{"datum":11}}},
{"transform":[{"filter":{"field":"f","equal":"B"}}],"mark":{"type":"bar","fill":"#0080FF","stroke":"black","strokeWidth":0.7,"size":4},
"encoding":{"x":{"field":"m","type":"quantitative","axis":{"orient":"bottom","values":[10,15,20,25,30,40,60,80,100,120],"labels":false,"tickSize":-10,"title":null}},
"y":{"field":"e3","type":"quantitative","axis":{"orient":"left","values":[12,14,16,18,20],"labels":false,"tickSize":-16,"title":null}},
"y2":{"datum":11}}},
{"transform":[{"filter":{"field":"f","equal":"B"}}],"mark":{"type":"bar","fill":"#0000FF","stroke":"black","strokeWidth":0.7,"size":4},
"encoding":{"x":{"field":"m","type":"quantitative","axis":{"orient":"bottom","values":[9,11,12,13,14,16,17,18,19,21,22,23,24,26,27,28,29,35,45,50,55,65,70,75,85,90,95,105,110,115],"labels":false,"tickSize":-5,"title":null}},
"y":{"field":"e2","type":"quantitative","axis":{"orient":"left","values":[11.5,12.5,13,13.5,14.5,15,15.5,16.5,17,17.5,18.5,19,19.5,20.5,21,21.5],"labels":false,"tickSize":-8,"title":null}},
"y2":{"datum":11}}},
{"transform":[{"filter":{"field":"f","equal":"B"}}],"mark":{"type":"bar","fill":"#808080","stroke":"black","strokeWidth":0.7,"size":4},
"encoding":{"x":{"field":"m","type":"quantitative","axis":{"orient":"top","values":[10,15,20,25,30,40,60,80,100,120],"labels":false,"tickSize":-10,"title":null}},
"y":{"field":"e1","type":"quantitative","axis":{"orient":"right","values":[12,14,16,18,20],"labels":false,"tickSize":-16,"title":null}},
"y2":{"datum":11}}},
{"transform":[{"filter":{"field":"f","equal":"S"}}],"mark":{"type":"bar","fill":"#FF0000","stroke":"black","strokeWidth":0.7,"size":4},
"encoding":{"x":{"field":"m","type":"quantitative","axis":{"orient":"top","values":[9,11,12,13,14,16,17,18,19,21,22,23,24,26,27,28,29,35,45,50,55,65,70,75,85,90,95,105,110,115],"labels":false,"tickSize":-5,"title":null}},
"y":{"field":"e1","type":"quantitative","axis":{"orient":"right","values":[11.5,12.5,13,13.5,14.5,15,15.5,16.5,17,17.5,18.5,19,19.5,20.5,21,21.5],"labels":false,"tickSize":-8,"title":null}},
"y2":{"datum":11}}},
{"data":{"values":[{}]},"mark":{"type":"rule","stroke":"black","strokeWidth":2.2},"encoding":{"x":{"datum":13.02,"type":"quantitative","axis":null}}},
{"data":{"values":[{}]},"mark":{"type":"rule","stroke":"black","strokeWidth":2.2},"encoding":{"x":{"datum":29.91,"type":"quantitative","axis":null}}},
{"data":{"values":[{}]},"mark":{"type":"text","text":"WH15","align":"right","baseline":"middle","fontSize":16,"font":"Liberation Sans"},"encoding":{"x":{"datum":12.57,"type":"quantitative","axis":null},"y":{"datum":20.36,"type":"quantitative","axis":null}}},
{"data":{"values":[{}]},"mark":{"type":"text","text":"SW14","align":"left","baseline":"middle","fontSize":16,"font":"Liberation Sans"},"encoding":{"x":{"datum":13.28,"type":"quantitative","axis":null},"y":{"datum":20.36,"type":"quantitative","axis":null}}},
{"data":{"values":[{}]},"mark":{"type":"text","text":"SW14","align":"right","baseline":"middle","fontSize":16,"font":"Liberation Sans"},"encoding":{"x":{"datum":29.5,"type":"quantitative","axis":null},"y":{"datum":20.36,"type":"quantitative","axis":null}}},
{"data":{"values":[{}]},"mark":{"type":"text","text":"WH07","align":"left","baseline":"middle","fontSize":16,"font":"Liberation Sans"},"encoding":{"x":{"datum":31.17,"type":"quantitative","axis":null},"y":{"datum":20.39,"type":"quantitative","axis":null}}},
{"data":{"values":[{}]},"mark":{"type":"text","text":"ν̄ₑ","align":"center","baseline":"middle","fontSize":26,"fontWeight":"bold","font":"DejaVu Sans"},"encoding":{"x":{"datum":116.7,"type":"quantitative","axis":null},"y":{"datum":20.15,"type":"quantitative","axis":null}}}
]}
]
}
